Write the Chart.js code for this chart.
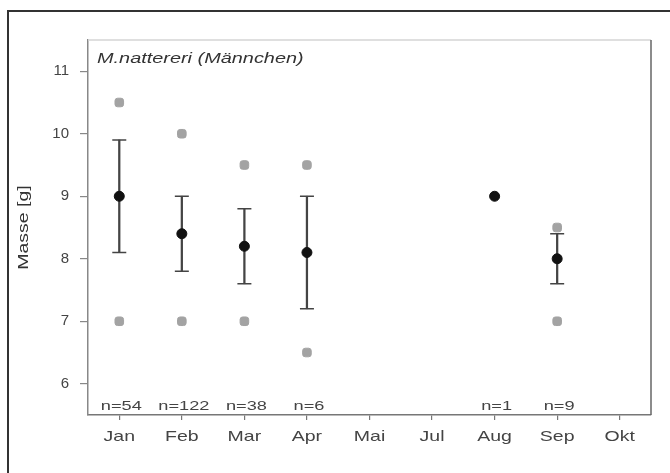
<!DOCTYPE html>
<html>
<head>
<meta charset="utf-8">
<script src="https://cdn.jsdelivr.net/npm/chart.js@4"></script>
<style>
  html, body { margin: 0; padding: 0; background: #fff; }
  #wrap { position: relative; width: 670px; height: 473px; overflow: hidden; }
  #frame { position: absolute; left: 7px; top: 10px; width: 700px; height: 500px;
           border-left: 2px solid #333; border-top: 2px solid #333; box-sizing: border-box; pointer-events: none; }
  canvas { position: absolute; left: 0; top: 0; }
</style>
</head>
<body>
<div id="wrap">
  <canvas id="c" width="670" height="473"></canvas>
  <div id="frame"></div>
</div>
<script>
const months   = ["Jan", "Feb", "Mar", "Apr", "Mai", "Jul", "Aug", "Sep", "Okt"];
const meanMass = [9.0, 8.4, 8.2, 8.1, null, null, 9.0, 8.0, null];
const errLow   = [8.1, 7.8, 7.6, 7.2, null, null, null, 7.6, null];
const errHigh  = [9.9, 9.0, 8.8, 9.0, null, null, null, 8.4, null];
const maxMass  = [10.5, 10.0, 9.5, 9.5, null, null, null, 8.5, null];
const minMass  = [7.0, 7.0, 7.0, 6.5, null, null, null, 7.0, null];
const sampleN  = [54, 122, 38, 6, null, null, 1, 9, null];
const yTicks   = [6, 7, 8, 9, 10, 11];
const panelTitle = "M.nattereri (Männchen)";
const yTitle = "Masse [g]";

const FONT = "'Liberation Sans', Arial, sans-serif";

// draw text horizontally stretched (the reference scan is widened)
function stretchedText(ctx, text, x, y, sx, align) {
  ctx.save();
  ctx.translate(x, y);
  ctx.scale(sx, 1);
  ctx.textAlign = align;
  ctx.fillText(text, 0, 0);
  ctx.restore();
}

const framePlugin = {
  id: 'frame',
  beforeDatasetsDraw(chart) {
    const a = chart.chartArea, ctx = chart.ctx;
    ctx.save();
    ctx.lineWidth = 1.5;
    ctx.strokeStyle = '#d4d4d4';
    ctx.beginPath(); ctx.moveTo(a.left, a.top); ctx.lineTo(a.right, a.top); ctx.stroke();
    ctx.strokeStyle = '#666';
    ctx.beginPath(); ctx.moveTo(a.right, a.top); ctx.lineTo(a.right, a.bottom); ctx.stroke();
    ctx.restore();
  },
  afterDraw(chart) {
    const a = chart.chartArea, ctx = chart.ctx, xs = chart.scales.x;
    ctx.save();
    ctx.textBaseline = 'middle';
    // panel title
    ctx.fillStyle = '#333';
    ctx.font = "italic 14px " + FONT;
    stretchedText(ctx, panelTitle, a.left + 9, a.top + 19, 1.42, 'left');
    // n labels
    ctx.font = "13px " + FONT;
    ctx.fillStyle = '#444';
    sampleN.forEach((n, i) => {
      if (n == null) return;
      stretchedText(ctx, 'n=' + n, xs.getPixelForValue(i) + 2, a.bottom - 9, 1.4, 'center');
    });
    // x category labels
    ctx.font = "15px " + FONT;
    ctx.fillStyle = '#444';
    months.forEach((m, i) => {
      stretchedText(ctx, m, xs.getPixelForValue(i), a.bottom + 22, 1.3, 'center');
    });
    // y axis title
    ctx.save();
    ctx.translate(24, (a.top + a.bottom) / 2);
    ctx.rotate(-Math.PI / 2);
    ctx.font = "15px " + FONT;
    ctx.fillStyle = '#333';
    stretchedText(ctx, yTitle, 0, 0, 1.3, 'center');
    ctx.restore();
    ctx.restore();
  }
};

const pts = (arr) => arr.map(v => v == null ? null : v);

new Chart(document.getElementById('c'), {
  type: 'bar',
  data: {
    labels: months,
    datasets: [
      {
        type: 'line', label: 'mean', data: pts(meanMass), showLine: false,
        pointStyle: 'circle', pointRadius: 5, pointBackgroundColor: '#111', pointBorderColor: '#111',
        order: 0
      },
      {
        type: 'line', label: 'max', data: pts(maxMass), showLine: false,
        pointStyle: 'rectRounded', pointRadius: 5, pointBackgroundColor: '#a3a3a3', pointBorderColor: '#a3a3a3',
        order: 1
      },
      {
        type: 'line', label: 'min', data: pts(minMass), showLine: false,
        pointStyle: 'rectRounded', pointRadius: 5, pointBackgroundColor: '#a3a3a3', pointBorderColor: '#a3a3a3',
        order: 1
      },
      {
        type: 'line', label: 'capHigh', data: pts(errHigh), showLine: false,
        pointStyle: 'line', pointRadius: 7, pointBorderWidth: 1.6, pointBorderColor: '#444',
        order: 2
      },
      {
        type: 'line', label: 'capLow', data: pts(errLow), showLine: false,
        pointStyle: 'line', pointRadius: 7, pointBorderWidth: 1.6, pointBorderColor: '#444',
        order: 2
      },
      {
        type: 'bar', label: 'range',
        data: errLow.map((l, i) => l == null ? null : [l, errHigh[i]]),
        backgroundColor: '#444', borderWidth: 0, barThickness: 1.6,
        order: 3
      }
    ]
  },
  options: {
    responsive: false,
    animation: false,
    events: [],
    layout: { padding: { left: 8, top: 40, right: 19, bottom: 18 } },
    plugins: { legend: { display: false }, tooltip: { enabled: false } },
    scales: {
      x: {
        type: 'category',
        offset: true,
        grid: { display: true, drawOnChartArea: false, offset: false, tickLength: 5, color: '#777', lineWidth: 1.2 },
        border: { display: true, color: '#777', width: 1.5 },
        ticks: { display: false, autoSkip: false },
        afterFit(s) { s.height = 473 - 18 - 415; }
      },
      y: {
        min: 5.5, max: 11.5,
        afterBuildTicks(s) { s.ticks = yTicks.map(v => ({ value: v })); },
        grid: { display: true, drawOnChartArea: false, tickLength: 8, color: '#888', lineWidth: 1.2 },
        border: { display: true, color: '#888', width: 1.5 },
        ticks: { color: '#444', font: { family: FONT, size: 15 }, padding: 11 },
        title: { display: false, text: yTitle },
        afterFit(s) { s.width = 88 - 8; }
      }
    }
  },
  plugins: [framePlugin]
});
</script>
</body>
</html>
